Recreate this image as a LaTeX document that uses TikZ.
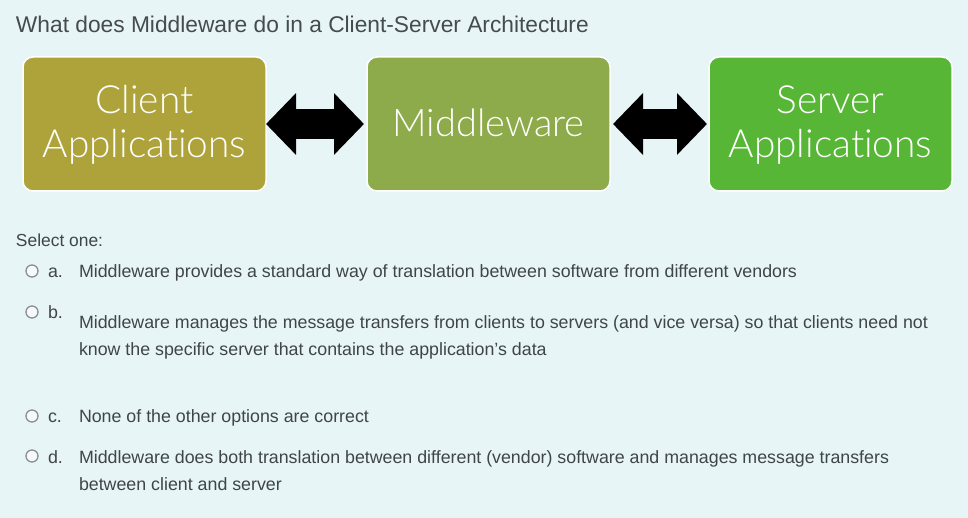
\documentclass[tikz,border=0pt]{standalone}
\usepackage{fontspec}
\setmainfont{Liberation Sans}
\newfontfamily\boxfont[UprightFont=* Light,Ligatures=NoCommon]{Lato}
\usetikzlibrary{arrows.meta}
\definecolor{pagebg}{HTML}{E7F5F7}
\definecolor{bodytxt}{HTML}{3F4549}
\definecolor{titletxt}{HTML}{454B4F}
\definecolor{clientc}{HTML}{AEA33A}
\definecolor{midc}{HTML}{8DAB4A}
\definecolor{serverc}{HTML}{58B637}
\definecolor{radioc}{HTML}{8A8F92}
\tikzset{
 bx/.style={draw=white,line width=1.5pt,rounded corners=10pt,minimum width=243pt,minimum height=134pt,inner sep=0pt,outer sep=0pt,text=white,align=center,font=\boxfont\fontsize{38.8}{44.5}\selectfont},
 dbl/.style={line width=30pt,black,{Triangle[length=30pt,width=60pt]}-{Triangle[length=30pt,width=60pt]}},
 txt/.style={anchor=base west,inner sep=0pt,outer sep=0pt,text=bodytxt,font=\fontsize{17.8}{21}\selectfont},
 radio/.style={circle,draw=radioc,fill=white!60!pagebg,line width=1.3pt,minimum size=12pt,inner sep=0pt},
}
\begin{document}
\begin{tikzpicture}[x=1pt,y=-1pt]
\useasboundingbox[fill=pagebg] (0,0) rectangle (968,518);
\node[txt,text=titletxt,font=\fontsize{22.75}{26}\selectfont] (title) at (16,33) {What does Middleware do in a Client-Server Architecture};
\node[bx,fill=clientc] (client) at (144.5,124) {\rule{0pt}{29.5pt}Client\\Applications};
\node[bx,fill=midc,font=\boxfont\fontsize{38}{44.5}\selectfont] (mid) at (488.5,124) {\raisebox{2.5pt}{Middleware}};
\node[bx,fill=serverc] (server) at (830.5,124) {\rule{0pt}{29.5pt}Server\\Applications};
\draw[dbl,shorten >=3pt] (client.east) -- (mid.west);
\draw[dbl,shorten <=3pt,shorten >=2pt] (mid.east) -- (server.west);
\node[txt,font=\fontsize{17.4}{21}\selectfont] (sel) at (16,247) {Select one:};
\node[radio] (ra) at (32,271) {};
\node[txt] (la) at (48,277.6) {a.};
\node[txt] (ta) at (79,277.6) {Middleware provides a standard way of translation between software from different vendors};
\node[radio] (rb) at (32,312) {};
\node[txt] (lb) at (48,318.6) {b.};
\node[txt] (tb1) at (79,328) {Middleware manages the message transfers from clients to servers (and vice versa) so that clients need not};
\node[txt] (tb2) at (79,355) {know the specific server that contains the application’s data};
\node[radio] (rc) at (32,416) {};
\node[txt] (lc) at (48,422) {c.};
\node[txt] (tc) at (79,422) {None of the other options are correct};
\node[radio] (rd) at (32,456) {};
\node[txt] (ld) at (48,463) {d.};
\node[txt] (td1) at (79,463) {Middleware does both translation between different (vendor) software and manages message transfers};
\node[txt] (td2) at (79,490) {between client and server};
\end{tikzpicture}
\end{document}
